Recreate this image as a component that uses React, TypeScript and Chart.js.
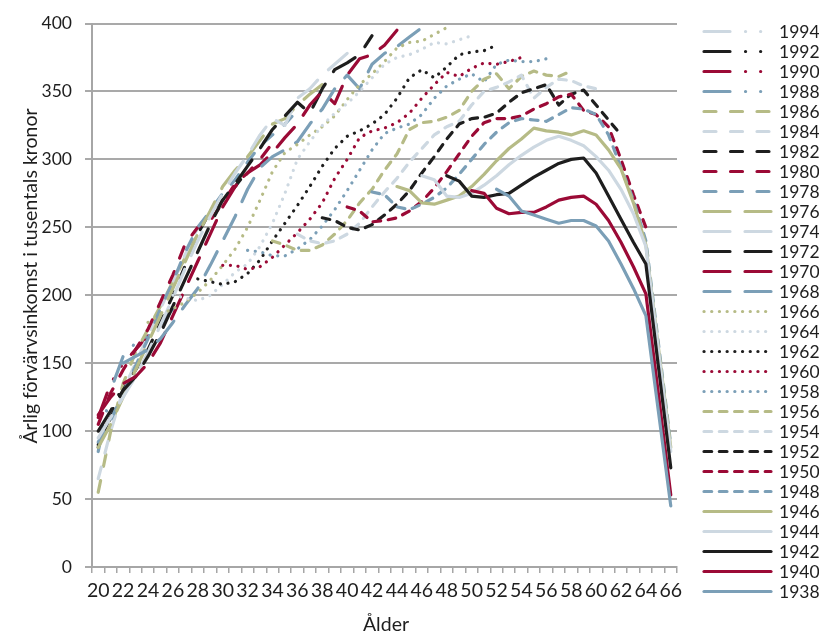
import React, { useEffect, useRef } from 'react';
import { Chart, registerables } from 'chart.js';

Chart.register(...registerables);

const AGES = ['20','21','22','23','24','25','26','27','28','29','30','31','32','33','34','35','36','37','38','39','40','41','42','43','44','45','46','47','48','49','50','51','52','53','54','55','56','57','58','59','60','61','62','63','64','65','66'];

const COHORTS = [1994,1992,1990,1988,1986,1984,1982,1980,1978,1976,1974,1972,1970,1968,1966,1964,1962,1960,1958,1956,1954,1952,1950,1948,1946,1944,1942,1940,1938];
const FIRST_AGE = [20,20,20,20,20,20,20,20,20,20,20,20,20,22,24,26,28,30,32,34,36,38,40,42,44,46,48,50,52];

const s1994 = [95];
const s1992 = [88,112,135];
const s1990 = [110,135,150,160,170];
const s1988 = [85,130,155,165,170,178,190];
const s1986 = [55,100,135,158,175,192,210,228,245];
const s1984 = [65,100,130,150,170,190,210,230,250,262,275];
const s1982 = [90,110,130,145,160,180,200,222,245,262,270,280,292];
const s1980 = [105,128,145,160,175,195,215,238,250,255,268,282,290,300,312];
const s1978 = [92,108,128,148,168,190,210,232,250,262,275,285,298,310,318,326,336];
const s1976 = [88,105,125,145,165,185,205,225,245,262,280,292,302,314,326,330,340,348,355];
const s1974 = [95,110,125,140,158,178,198,220,240,258,275,290,303,318,330,325,345,352,362,370,378];
const s1972 = [100,115,130,140,155,172,192,212,232,252,270,282,295,308,322,332,342,334,352,366,371,377,391];
const s1970 = [112,125,135,140,150,165,185,205,225,245,265,280,290,296,305,316,326,340,350,341,362,374,377,384,395];
const s1968 = [150,155,160,168,180,193,205,222,240,258,278,294,302,307,313,326,337,352,362,352,370,378,383,390,397];
const s1966 = [180,186,190,195,202,211,222,234,250,270,291,305,311,318,324,332,344,355,363,372,382,386,387,392,397];
const s1964 = [200,198,196,200,208,217,223,236,253,275,300,313,325,334,341,350,360,370,375,377,381,386,385,388,391];
const s1962 = [212,210,208,210,216,226,240,253,266,280,295,308,317,321,326,333,345,360,366,360,368,377,379,380,384];
const s1960 = [222,222,219,221,228,237,246,256,268,286,300,316,321,323,327,334,345,355,364,361,367,371,370,372,375];
const s1958 = [233,232,229,229,234,241,251,263,277,292,307,319,323,326,333,345,354,359,363,357,370,373,372,372,374];
const s1956 = [240,237,233,233,237,245,255,268,278,292,304,322,327,328,331,336,350,359,363,352,361,365,362,361,365];
const s1954 = [245,240,238,240,245,253,265,276,286,298,308,318,324,328,340,350,353,357,362,345,353,359,358,354,352];
const s1952 = [257,255,250,248,252,259,267,277,290,302,315,326,330,331,334,342,349,352,355,340,348,351,340,329,318];
const s1950 = [265,262,254,255,257,262,269,279,291,304,317,327,330,330,332,337,341,346,348,336,333,324,300,274,250];
const s1948 = [276,274,265,263,267,272,279,289,300,311,320,327,330,329,328,333,338,337,333,318,294,270,240,165,90];
const s1946 = [280,277,268,267,270,273,280,289,299,308,315,323,321,320,318,321,318,307,293,268,237,162,88];
const s1944 = [288,285,273,272,275,281,288,296,303,309,314,317,314,310,302,292,278,260,236,160,85];
const s1942 = [288,284,273,272,274,275,281,287,292,297,300,301,290,273,256,239,223,148,73];
const s1940 = [277,275,264,260,261,261,265,270,272,273,267,255,239,221,201,128,53];
const s1938 = [278,273,262,259,256,253,255,255,251,240,223,205,185,115,45];

const SERIES = [s1994,s1992,s1990,s1988,s1986,s1984,s1982,s1980,s1978,s1976,s1974,s1972,s1970,s1968,s1966,s1964,s1962,s1960,s1958,s1956,s1954,s1952,s1950,s1948,s1946,s1944,s1942,s1940,s1938];

const Y_TICKS = [0, 50, 100, 150, 200, 250, 300, 350, 400];

const PALETTE = ['#cdd8e1', '#1e1e1e', '#9b0a36', '#7b9fb7', '#b6bb86'];

function styleFor(k: number) {
  const color = PALETTE[k % 5];
  let dash: number[] = [];
  if (k <= 3) dash = [26, 15.5, 0.1, 15, 0.1, 15.5];
  else if (k <= 8) dash = [12, 14.5];
  else if (k <= 13) dash = [26, 15];
  else if (k <= 18) dash = [0.1, 7.6];
  else if (k <= 23) dash = [7.7, 7.6];
  return { color, dash };
}

const FONT = 'Lato, "Open Sans", sans-serif';

const overlay = {
  id: 'overlay',
  afterDraw(chart: any) {
    const ctx = chart.ctx as CanvasRenderingContext2D;
    ctx.save();
    COHORTS.forEach((c, k) => {
      const st = styleFor(k);
      const y = 31.5 + k * 20;
      ctx.beginPath();
      ctx.setLineDash(st.dash);
      ctx.lineCap = 'round';
      ctx.lineWidth = 3.2;
      ctx.strokeStyle = st.color;
      ctx.moveTo(704, y);
      ctx.lineTo(771, y);
      ctx.stroke();
      ctx.setLineDash([]);
      ctx.fillStyle = '#1e1e1e';
      ctx.font = '17.5px ' + FONT;
      ctx.textBaseline = 'middle';
      ctx.textAlign = 'left';
      ctx.fillText(String(c), 779, y + 1);
    });
    ctx.fillStyle = '#1e1e1e';
    ctx.font = '19.5px ' + FONT;
    ctx.textAlign = 'center';
    ctx.textBaseline = 'middle';
    ctx.fillText('Ålder', 386, 625);
    ctx.translate(31, 276);
    ctx.rotate(-Math.PI / 2);
    ctx.fillText('Årlig förvärvsinkomst i tusentals kronor', 0, 0);
    ctx.restore();
  },
};

export default function App() {
  const ref = useRef<HTMLCanvasElement | null>(null);
  useEffect(() => {
    document.body.style.margin = '0';
    const canvas = ref.current;
    if (!canvas) return;
    const n = COHORTS.length;
    const datasets = [] as any[];
    for (let idx = n - 1; idx >= 0; idx--) {
      const st = styleFor(idx);
      const vals = SERIES[idx];
      const first = FIRST_AGE[idx];
      datasets.push({
        label: String(COHORTS[idx]),
        data: AGES.map((a) => {
          const j = Number(a) - first;
          return j >= 0 && j < vals.length ? vals[j] : null;
        }),
        borderColor: st.color,
        backgroundColor: st.color,
        borderWidth: 3.2,
        borderDash: st.dash,
        borderCapStyle: 'round',
        borderJoinStyle: 'round',
        pointRadius: 0,
        tension: 0,
        spanGaps: false,
        fill: false,
      });
    }
    const chart = new Chart(canvas, {
      type: 'line',
      data: { labels: AGES, datasets },
      options: {
        animation: false,
        responsive: false,
        devicePixelRatio: 1,
        layout: { padding: { left: 0, right: 142, top: 22, bottom: 0 } },
        plugins: { legend: { display: false }, tooltip: { enabled: false } },
        scales: {
          x: {
            type: 'category',
            offset: true,
            afterFit: (s: any) => { s.height = 68; },
            grid: { display: true, drawOnChartArea: false, offset: true, tickLength: 6, color: '#a6a6a6', lineWidth: 1.5 },
            border: { display: true, color: '#a6a6a6', width: 2 },
            ticks: {
              autoSkip: false,
              maxRotation: 0,
              minRotation: 0,
              padding: 6,
              color: '#1e1e1e',
              font: { family: FONT, size: 19.5 },
              callback: (_v: any, i: number) => (i % 2 === 0 ? AGES[i] : ''),
            },
          },
          y: {
            min: 0,
            max: 400,
            afterFit: (s: any) => { s.width = 92; },
            afterBuildTicks: (s: any) => { s.ticks = Y_TICKS.map((v) => ({ value: v })); },
            grid: { color: '#a9a9a9', lineWidth: 2, tickLength: 7 },
            border: { display: true, color: '#a6a6a6', width: 2 },
            ticks: { padding: 13, color: '#1e1e1e', font: { family: FONT, size: 17.5 } },
          },
        },
      },
      plugins: [overlay],
    });
    return () => chart.destroy();
  }, []);
  return (
    <div style={{ width: 819, height: 635, position: 'relative' }}>
      <canvas ref={ref} width={819} height={635} style={{ display: 'block' }} />
    </div>
  );
}
